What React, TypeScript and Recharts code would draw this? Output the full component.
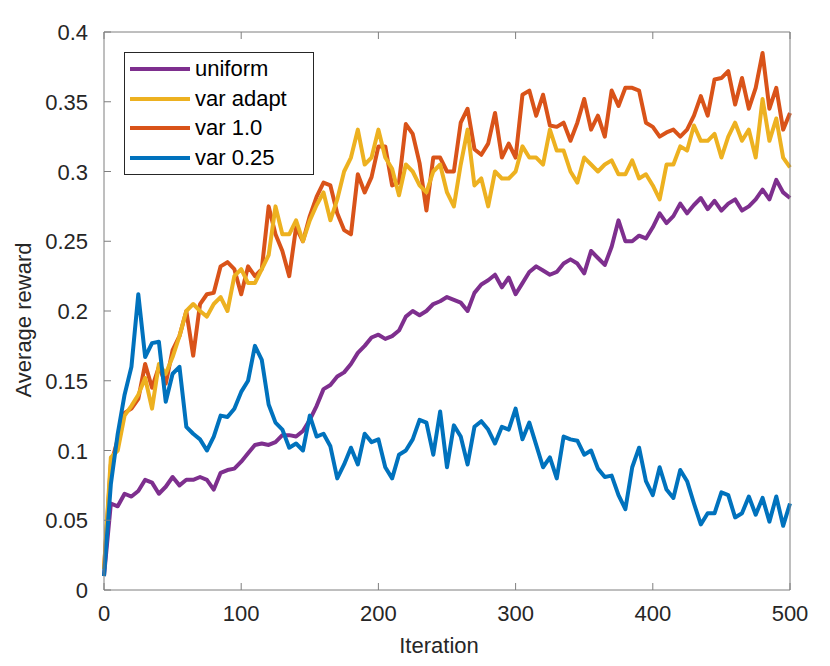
import React from 'react';
import { LineChart, Line, XAxis, YAxis, Legend, Label } from 'recharts';

const iterations = [
  0, 5, 10, 15, 20, 25, 30, 35, 40, 45, 50, 55, 60, 65, 70, 75, 80, 85, 90, 95,
  100, 105, 110, 115, 120, 125, 130, 135, 140, 145, 150, 155, 160, 165, 170, 175, 180, 185, 190, 195,
  200, 205, 210, 215, 220, 225, 230, 235, 240, 245, 250, 255, 260, 265, 270, 275, 280, 285, 290, 295,
  300, 305, 310, 315, 320, 325, 330, 335, 340, 345, 350, 355, 360, 365, 370, 375, 380, 385, 390, 395,
  400, 405, 410, 415, 420, 425, 430, 435, 440, 445, 450, 455, 460, 465, 470, 475, 480, 485, 490, 495,
  500,
];

const uniform = [
  0.01, 0.062, 0.06, 0.069, 0.067, 0.071, 0.079, 0.077, 0.069, 0.074,
  0.081, 0.075, 0.079, 0.079, 0.081, 0.079, 0.072, 0.084, 0.086, 0.087,
  0.092, 0.098, 0.104, 0.105, 0.104, 0.106, 0.111, 0.111, 0.11, 0.114,
  0.122, 0.132, 0.144, 0.147, 0.153, 0.156, 0.162, 0.17, 0.175, 0.181,
  0.183, 0.18, 0.182, 0.186, 0.196, 0.2, 0.197, 0.2, 0.205, 0.207,
  0.21, 0.208, 0.206, 0.2, 0.213, 0.219, 0.222, 0.226, 0.217, 0.224,
  0.212, 0.22, 0.228, 0.232, 0.229, 0.226, 0.228, 0.234, 0.237, 0.234,
  0.227, 0.243, 0.238, 0.233, 0.246, 0.265, 0.25, 0.25, 0.254, 0.252,
  0.26, 0.27, 0.263, 0.268, 0.277, 0.27, 0.276, 0.281, 0.273, 0.279,
  0.272, 0.277, 0.28, 0.272, 0.275, 0.28, 0.287, 0.28, 0.294, 0.285,
  0.281,
];

const varAdapt = [
  0.015, 0.095, 0.1, 0.125, 0.132, 0.14, 0.152, 0.13, 0.162, 0.155,
  0.167, 0.182, 0.2, 0.205, 0.2, 0.196, 0.205, 0.21, 0.2, 0.225,
  0.23, 0.22, 0.22, 0.23, 0.24, 0.275, 0.255, 0.255, 0.265, 0.25,
  0.265, 0.276, 0.285, 0.265, 0.28, 0.3, 0.31, 0.33, 0.305, 0.31,
  0.33, 0.31, 0.302, 0.283, 0.305, 0.3, 0.29, 0.285, 0.3, 0.305,
  0.285, 0.275, 0.305, 0.33, 0.29, 0.295, 0.275, 0.3, 0.295, 0.295,
  0.3, 0.318, 0.31, 0.31, 0.305, 0.33, 0.315, 0.315, 0.3, 0.292,
  0.31, 0.305, 0.3, 0.305, 0.308, 0.298, 0.298, 0.308, 0.295, 0.298,
  0.29, 0.28, 0.305, 0.305, 0.318, 0.315, 0.333, 0.322, 0.322, 0.327,
  0.31, 0.325, 0.335, 0.322, 0.33, 0.31, 0.352, 0.322, 0.338, 0.31,
  0.303,
];

const var10 = [
  0.015, 0.09, 0.108, 0.127, 0.13, 0.137, 0.162, 0.145, 0.16, 0.148,
  0.172, 0.182, 0.2, 0.168, 0.205, 0.212, 0.213, 0.232, 0.235, 0.23,
  0.212, 0.232, 0.225, 0.23, 0.275, 0.255, 0.243, 0.225, 0.26, 0.25,
  0.268, 0.282, 0.292, 0.29, 0.27, 0.258, 0.255, 0.298, 0.285, 0.296,
  0.318, 0.318, 0.29, 0.292, 0.334, 0.327, 0.306, 0.272, 0.31, 0.31,
  0.3, 0.3, 0.335, 0.345, 0.316, 0.312, 0.32, 0.342, 0.31, 0.32,
  0.31, 0.355, 0.358, 0.34, 0.355, 0.333, 0.332, 0.335, 0.322, 0.335,
  0.352, 0.33, 0.34, 0.325, 0.358, 0.347, 0.36, 0.36, 0.358, 0.335,
  0.332, 0.325, 0.328, 0.33, 0.325, 0.33, 0.34, 0.354, 0.34, 0.366,
  0.367, 0.372, 0.348, 0.367, 0.345, 0.36, 0.385, 0.345, 0.36, 0.33,
  0.342,
];

const var025 = [
  0.01, 0.076, 0.112, 0.14, 0.16, 0.212, 0.167, 0.177, 0.178, 0.135,
  0.155, 0.16, 0.117, 0.112, 0.108, 0.1, 0.11, 0.125, 0.124, 0.13,
  0.142, 0.15, 0.175, 0.165, 0.133, 0.12, 0.115, 0.102, 0.105, 0.1,
  0.125, 0.11, 0.112, 0.103, 0.08, 0.09, 0.102, 0.09, 0.112, 0.106,
  0.108, 0.088, 0.08, 0.097, 0.1, 0.108, 0.122, 0.12, 0.097, 0.128,
  0.088, 0.118, 0.11, 0.09, 0.117, 0.121, 0.115, 0.105, 0.117, 0.115,
  0.13, 0.108, 0.12, 0.104, 0.088, 0.095, 0.08, 0.11, 0.108, 0.107,
  0.097, 0.1, 0.087, 0.081, 0.082, 0.068, 0.058, 0.088, 0.102, 0.078,
  0.068, 0.088, 0.072, 0.066, 0.086, 0.078, 0.062, 0.047, 0.055, 0.055,
  0.07, 0.068, 0.052, 0.055, 0.067, 0.054, 0.066, 0.049, 0.067, 0.046,
  0.062,
];

const xTicks = [0, 100, 200, 300, 400, 500];
const yTicks = [0, 0.05, 0.1, 0.15, 0.2, 0.25, 0.3, 0.35, 0.4];
const yTickLabels = ['0', '0.05', '0.1', '0.15', '0.2', '0.25', '0.3', '0.35', '0.4'];

const seriesNames = ['uniform', 'var adapt', 'var 1.0', 'var 0.25'];
const seriesColors = ['#7E2F8E', '#EDB120', '#D95319', '#0072BD'];

const data = iterations.map((it, i) => ({
  iteration: it,
  uniform: uniform[i],
  varAdapt: varAdapt[i],
  var10: var10[i],
  var025: var025[i],
}));

const FONT = '"Liberation Sans", Helvetica, Arial, sans-serif';
const TEXT = '#262626';
const AXIS = '#7f7f7f';
const FS = 22;
const TICK = 7;
const LW = 4;

const BottomTick = (props: any) => {
  const { x, y, payload } = props;
  return (
    <g>
      <line x1={x} y1={y} x2={x} y2={y - TICK} stroke={AXIS} strokeWidth={1} />
      <text x={x} y={y + 31} textAnchor="middle" fill={TEXT} fontSize={FS} fontFamily={FONT}>
        {payload.value}
      </text>
    </g>
  );
};

const TopTick = (props: any) => {
  const { x, y } = props;
  return <line x1={x} y1={y} x2={x} y2={y + TICK} stroke={AXIS} strokeWidth={1} />;
};

const LeftTick = (props: any) => {
  const { x, y, payload, index } = props;
  const idx = yTicks.indexOf(payload.value);
  const lbl = idx >= 0 ? yTickLabels[idx] : yTickLabels[index];
  return (
    <g>
      <line x1={x} y1={y} x2={x + TICK} y2={y} stroke={AXIS} strokeWidth={1} />
      <text x={x - 16} y={y + 8} textAnchor="end" fill={TEXT} fontSize={FS} fontFamily={FONT}>
        {lbl}
      </text>
    </g>
  );
};

const RightTick = (props: any) => {
  const { x, y } = props;
  return <line x1={x} y1={y} x2={x - TICK} y2={y} stroke={AXIS} strokeWidth={1} />;
};

const XLabel = (props: any) => {
  const vb = props.viewBox;
  return (
    <text
      x={vb.x + vb.width / 2 - 8}
      y={vb.y + vb.height - 13}
      textAnchor="middle"
      fill={TEXT}
      fontSize={FS}
      fontFamily={FONT}
    >
      Iteration
    </text>
  );
};

const YLabel = (props: any) => {
  const vb = props.viewBox;
  const cx = 31;
  const cy = vb.y + vb.height / 2 + 9;
  return (
    <text
      x={cx}
      y={cy}
      transform={`rotate(-90, ${cx}, ${cy})`}
      textAnchor="middle"
      fill={TEXT}
      fontSize={FS}
      fontFamily={FONT}
    >
      Average reward
    </text>
  );
};

const LegendBox = () => (
  <div
    style={{
      width: 190,
      height: 123,
      boxSizing: 'border-box',
      border: '1px solid #262626',
      background: '#fff',
      paddingTop: 1,
      fontFamily: FONT,
      fontSize: FS,
      color: '#000',
    }}
  >
    {seriesNames.map((name, i) => (
      <div key={name} style={{ display: 'flex', alignItems: 'center', height: 29.7 }}>
        <svg width={66} height={10} style={{ flex: 'none' }}>
          <line x1={5} y1={5} x2={65} y2={5} stroke={seriesColors[i]} strokeWidth={4} />
        </svg>
        <span style={{ marginLeft: 4, lineHeight: '22px', whiteSpace: 'nowrap' }}>{name}</span>
      </div>
    ))}
  </div>
);

export default function App() {
  return (
    <div style={{ position: 'absolute', left: 0, top: 0, width: 830, height: 666, background: '#fff' }}>
      <LineChart width={830} height={666} data={data} margin={{ top: 0, right: 0, bottom: 0, left: 0 }}>
        <XAxis
          dataKey="iteration"
          type="number"
          domain={[0, 500]}
          ticks={xTicks}
          interval={0}
          height={76}
          tickSize={0}
          tickMargin={0}
          tickLine={false}
          axisLine={{ stroke: AXIS, strokeWidth: 1 }}
          tick={<BottomTick />}
        >
          <Label content={<XLabel />} />
        </XAxis>
        <XAxis
          xAxisId="top"
          orientation="top"
          dataKey="iteration"
          type="number"
          domain={[0, 500]}
          ticks={xTicks}
          interval={0}
          height={32}
          tickSize={0}
          tickMargin={0}
          tickLine={false}
          axisLine={{ stroke: AXIS, strokeWidth: 1 }}
          tick={<TopTick />}
        />
        <YAxis
          type="number"
          domain={[0, 0.4]}
          ticks={yTicks}
          interval={0}
          width={104}
          tickSize={0}
          tickMargin={0}
          tickLine={false}
          axisLine={{ stroke: AXIS, strokeWidth: 1 }}
          tick={<LeftTick />}
        >
          <Label content={<YLabel />} />
        </YAxis>
        <YAxis
          yAxisId="right"
          orientation="right"
          type="number"
          domain={[0, 0.4]}
          ticks={yTicks}
          interval={0}
          width={40}
          tickSize={0}
          tickMargin={0}
          tickLine={false}
          axisLine={{ stroke: AXIS, strokeWidth: 1 }}
          tick={<RightTick />}
        />
        <Legend
          layout="vertical"
          align="center"
          verticalAlign="middle"
          content={<LegendBox />}
          wrapperStyle={{ position: 'absolute', left: 124, top: 52, width: 190, height: 123 }}
        />
        <Line dataKey="uniform" name="uniform" stroke={seriesColors[0]} strokeWidth={LW} dot={false} isAnimationActive={false} strokeLinejoin="round" />
        <Line dataKey="var10" name="var 1.0" stroke={seriesColors[2]} strokeWidth={LW} dot={false} isAnimationActive={false} strokeLinejoin="round" />
        <Line dataKey="varAdapt" name="var adapt" stroke={seriesColors[1]} strokeWidth={LW} dot={false} isAnimationActive={false} strokeLinejoin="round" />
        <Line dataKey="var025" name="var 0.25" stroke={seriesColors[3]} strokeWidth={LW} dot={false} isAnimationActive={false} strokeLinejoin="round" />
      </LineChart>
    </div>
  );
}
